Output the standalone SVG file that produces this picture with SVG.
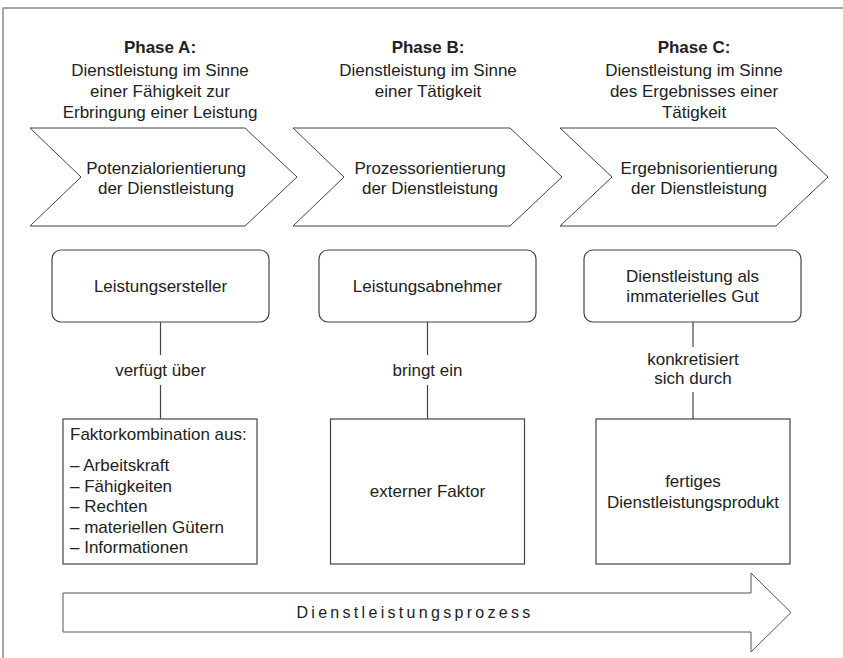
<svg xmlns="http://www.w3.org/2000/svg" width="843" height="658" viewBox="0 0 843 658">
  <style>
    text { font-family: "Liberation Sans", Arial, sans-serif; font-size: 17px; fill: #222; }
    .c { text-anchor: middle; }
    .b { font-weight: bold; }
    .frame { fill: none; stroke: #8a8a8a; stroke-width: 1.5; }
    .chev { fill: #fff; stroke: #444; stroke-width: 1; }
    .rbox { fill: #fff; stroke: #444; stroke-width: 1.2; }
    .box { fill: #fff; stroke: #444; stroke-width: 1.2; }
    .link { stroke: #444; stroke-width: 1.2; fill: none; }
    .proc { fill: #fff; stroke: #555; stroke-width: 1; }
  </style>

  <rect x="0" y="0" width="843" height="658" fill="#fff"/>
  <path class="frame" d="M3,660 V8 H846"/>

  <!-- phase headings -->
  <g id="phaseA">
    <text class="c b" x="160" y="53">Phase A:</text>
    <text class="c" x="160" y="76">Dienstleistung im Sinne</text>
    <text class="c" x="160" y="97">einer Fähigkeit zur</text>
    <text class="c" x="160" y="118">Erbringung einer Leistung</text>
  </g>
  <g id="phaseB">
    <text class="c b" x="428" y="53">Phase B:</text>
    <text class="c" x="428" y="76">Dienstleistung im Sinne</text>
    <text class="c" x="428" y="97">einer Tätigkeit</text>
  </g>
  <g id="phaseC">
    <text class="c b" x="694" y="53">Phase C:</text>
    <text class="c" x="694" y="76">Dienstleistung im Sinne</text>
    <text class="c" x="694" y="97">des Ergebnisses einer</text>
    <text class="c" x="694" y="118">Tätigkeit</text>
  </g>

  <!-- orientation chevrons -->
  <g id="chevA">
    <polygon class="chev" points="30,128 245,128 297,177 245,226 30,226 81,177"/>
    <text class="c" x="166" y="174">Potenzialorientierung</text>
    <text class="c" x="166" y="194">der Dienstleistung</text>
  </g>
  <g id="chevB">
    <polygon class="chev" points="293,128 510,128 562,177 510,226 293,226 344,177"/>
    <text class="c" x="430" y="174">Prozessorientierung</text>
    <text class="c" x="430" y="194">der Dienstleistung</text>
  </g>
  <g id="chevC">
    <polygon class="chev" points="560,128 776,128 828,177 776,226 560,226 612,177"/>
    <text class="c" x="699" y="174">Ergebnisorientierung</text>
    <text class="c" x="699" y="194">der Dienstleistung</text>
  </g>

  <!-- connectors -->
  <g id="connectors">
    <path class="link" d="M160.5,322 V355 M160.5,385 V419"/>
    <path class="link" d="M427.5,322 V355 M427.5,385 V419"/>
    <path class="link" d="M693,322 V347 M693,392 V419"/>
    <text class="c" x="160.5" y="376">verfügt über</text>
    <text class="c" x="427.5" y="376">bringt ein</text>
    <text class="c" x="693" y="365">konkretisiert</text>
    <text class="c" x="693" y="384">sich durch</text>
  </g>

  <!-- actors -->
  <g id="leistungsersteller">
    <rect class="rbox" x="52" y="250" width="217" height="72" rx="9"/>
    <text class="c" x="160.5" y="292">Leistungsersteller</text>
  </g>
  <g id="leistungsabnehmer">
    <rect class="rbox" x="319" y="250" width="217" height="72" rx="9"/>
    <text class="c" x="427.5" y="292">Leistungsabnehmer</text>
  </g>
  <g id="immateriellesGut">
    <rect class="rbox" x="584" y="250" width="217" height="72" rx="9"/>
    <text class="c" x="692.5" y="282">Dienstleistung als</text>
    <text class="c" x="692.5" y="302">immaterielles Gut</text>
  </g>

  <!-- factors / results -->
  <g id="faktorkombination">
    <rect class="box" x="63" y="419" width="194" height="145"/>
    <text x="70" y="440">Faktorkombination aus:</text>
    <text x="70" y="471">– Arbeitskraft</text>
    <text x="70" y="491.5">– Fähigkeiten</text>
    <text x="70" y="512">– Rechten</text>
    <text x="70" y="532.5">– materiellen Gütern</text>
    <text x="70" y="553">– Informationen</text>
  </g>
  <g id="externerFaktor">
    <rect class="box" x="330.5" y="419" width="194" height="145"/>
    <text class="c" x="427.5" y="497">externer Faktor</text>
  </g>
  <g id="dienstleistungsprodukt">
    <rect class="box" x="596" y="419" width="194" height="145"/>
    <text class="c" x="693" y="487">fertiges</text>
    <text class="c" x="693" y="508">Dienstleistungsprodukt</text>
  </g>

  <!-- process arrow -->
  <g id="prozess">
    <polygon class="proc" points="63,593 751,593 751,573 791,612.5 751,652 751,632 63,632"/>
    <text class="c" x="415" y="618" style="font-size:16px; letter-spacing:3.3px">Dienstleistungsprozess</text>
  </g>
</svg>
